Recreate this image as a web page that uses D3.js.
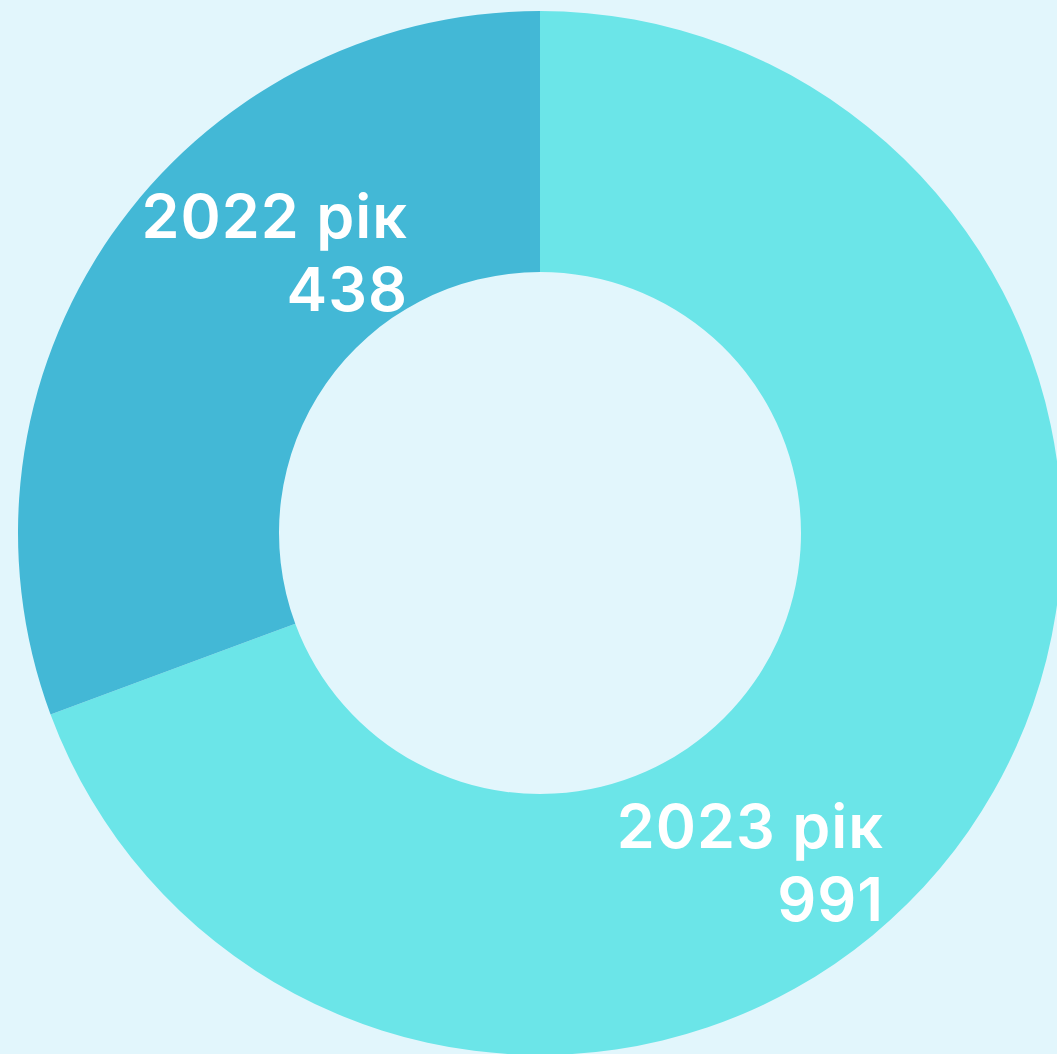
<!DOCTYPE html>
<html>
<head>
<meta charset="utf-8">
<script src="https://cdn.jsdelivr.net/npm/d3@7"></script>
<style>
  html, body { margin: 0; padding: 0; background: #e2f6fc; overflow: hidden; }
  svg { display: block; }
</style>
</head>
<body>
<svg id="chart" width="1057" height="1054"></svg>
<script>
const categories = ["2023 рік", "2022 рік"];
const values = [991, 438];
const colors = ["#6be5e8", "#43b8d6"];

const width = 1057, height = 1054;
const cx = 540, cy = 533;
const outerR = 522, innerR = 261;

const svg = d3.select("#chart");
svg.append("rect").attr("width", width).attr("height", height).attr("fill", "#e2f6fc");

const data = categories.map((c, i) => ({ label: c, value: values[i], color: colors[i] }));

const pie = d3.pie().value(d => d.value).sort(null);
const arc = d3.arc().innerRadius(innerR).outerRadius(outerR);

const g = svg.append("g").attr("transform", `translate(${cx},${cy})`);
const arcs = pie(data);

g.selectAll("path")
  .data(arcs)
  .join("path")
  .attr("d", arc)
  .attr("fill", d => d.data.color);

// label anchors (right-aligned text), offset from the ring centre
const labelPos = { "2023 рік": [344, 315], "2022 рік": [-132, -295] };
const lineGap = 73;

const labels = g.selectAll("g.lbl")
  .data(arcs)
  .join("g")
  .attr("class", "lbl")
  .attr("transform", d => `translate(${labelPos[d.data.label][0]},${labelPos[d.data.label][1]})`);

const font = "Inter, 'Noto Sans', sans-serif";

labels.append("text")
  .attr("text-anchor", "end")
  .attr("font-family", font)
  .attr("font-weight", 600)
  .attr("font-size", 61)
  .attr("letter-spacing", 1)
  .attr("fill", "#ffffff")
  .text(d => d.data.label);

labels.append("text")
  .attr("text-anchor", "end")
  .attr("y", lineGap)
  .attr("font-family", font)
  .attr("font-weight", 600)
  .attr("font-size", 61)
  .attr("letter-spacing", 1)
  .attr("fill", "#ffffff")
  .text(d => d3.format("d")(d.data.value));
</script>
</body>
</html>
